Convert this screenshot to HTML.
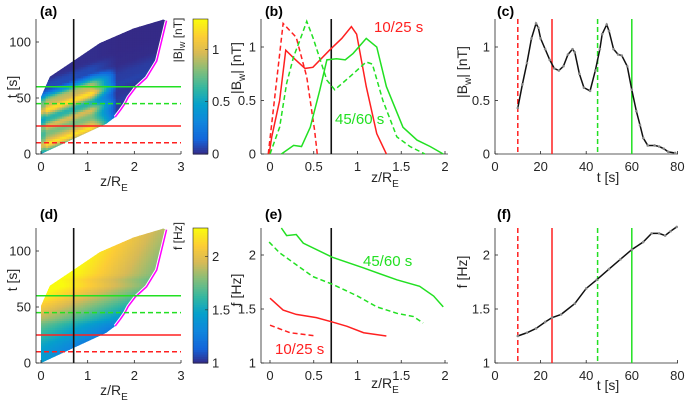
<!DOCTYPE html>
<html><head><meta charset="utf-8"><style>
html,body{margin:0;padding:0;background:#fff;}
svg{display:block;font-family:"Liberation Sans",sans-serif;}
</style></head><body>
<svg id="fig" width="685" height="405" viewBox="0 0 685 405"></svg>
<script>
// ---- data arrays ----
const cT=[10,12,14,16,18,19,20,22,24,26,28,30,32,34,35,37,39,41.7,44,46,47,49,50,52,54,55.6,58,60,62,63.6,65,67,70,72,74,76,79];
const cB=[0.43,0.65,0.85,1.08,1.22,1.18,1.08,0.98,0.88,0.8,0.78,0.82,0.93,0.98,0.95,0.75,0.62,0.59,0.78,0.98,1.12,1.21,1.15,0.98,0.93,0.92,0.82,0.6,0.4,0.27,0.15,0.08,0.08,0.07,0.05,0.02,0.01];
const fT=[10,14,18,22,25,29,35,40,44.6,50,55,60,65,68.7,72,74.6,77,79.7];
const fF=[1.25,1.28,1.32,1.38,1.42,1.45,1.55,1.69,1.77,1.87,1.96,2.05,2.12,2.2,2.2,2.18,2.22,2.26];
const bZ10=[-0.02,0.05,0.15,0.3,0.42,0.51,0.54];
const bV10=[0,0.5,1.22,1.09,0.72,0.22,0];
const bZ25=[-0.01,0.02,0.11,0.18,0.28,0.4,0.49,0.68,0.82,0.93,0.99,1.1,1.22,1.33];
const bV25=[0,0.16,0.5,0.97,0.89,0.8,0.81,0.97,1.08,1.19,1.12,0.63,0.19,0];
const bZ45=[0,0.11,0.19,0.27,0.34,0.42,0.49,0.65,0.74,0.91,1.1,1.17,1.29,1.45,1.6,1.77];
const bV45=[0,0.25,0.66,0.91,1.06,1.24,1.09,0.69,0.6,0.72,0.86,0.84,0.5,0.16,0.07,0];
const bZ60=[0.13,0.27,0.36,0.46,0.57,0.65,0.76,0.86,0.95,1.1,1.22,1.33,1.52,1.68,1.83,1.98];
const bV60=[0,0.08,0.07,0.25,0.6,0.88,0.89,0.88,0.94,1.08,1.0,0.63,0.25,0.13,0.07,0];
const eZ10=[0,0.23,0.53];
const eF10=[1.35,1.28,1.25];
const eZ25=[0,0.15,0.3,0.53,0.71,0.88,1.07,1.33];
const eF25=[1.6,1.49,1.45,1.42,1.38,1.34,1.28,1.25];
const eZ45=[-0.01,0.11,0.3,0.49,0.71,1.0,1.22,1.45,1.64,1.75];
const eF45=[2.12,2.02,1.91,1.8,1.73,1.62,1.52,1.46,1.43,1.37];
const eZ60=[0.13,0.19,0.3,0.38,0.71,1.07,1.45,1.71,1.87,1.98];
const eF60=[2.25,2.18,2.19,2.11,1.98,1.88,1.77,1.71,1.62,1.52];
const magZ=[1.59,1.7,1.8,1.87,2.02,2.26,2.48,2.62,2.69];
const magT=[33,39,45,50.6,58.9,68,83,107,119];
const topZ=[2.62,1.98,1.26,0.73,0.19,0];
const topT=[120,112,99,84,69,51];
const lowZ=[0,1.4];
const lowT=[0,27];
const markT=[10,25,45,60];
const zCut=0.7;

const NS="http://www.w3.org/2000/svg";
const svg=document.getElementById('fig');
function el(tag,attrs,parent){const e=document.createElementNS(NS,tag);for(const k in attrs)e.setAttribute(k,attrs[k]);(parent||svg).appendChild(e);return e;}
function interp(xs,ys,x){if(x<=xs[0])return ys[0];if(x>=xs[xs.length-1])return ys[ys.length-1];for(let i=1;i<xs.length;i++){if(x<=xs[i]){const f=(x-xs[i-1])/(xs[i]-xs[i-1]);return ys[i-1]+f*(ys[i]-ys[i-1]);}}}
const PS=[[0,[53,42,135]],[0.11,[20,101,218]],[0.24,[15,134,221]],[0.37,[6,160,203]],[0.49,[51,183,161]],[0.62,[130,190,123]],[0.75,[215,186,86]],[0.87,[252,204,54]],[1,[249,251,14]]];
function parula(v){v=Math.max(0,Math.min(1,v));for(let i=1;i<PS.length;i++){if(v<=PS[i][0]){const f=(v-PS[i-1][0])/(PS[i][0]-PS[i-1][0]);const a=PS[i-1][1],b=PS[i][1];return 'rgb('+a.map((c,j)=>Math.round(c+f*(b[j]-c))).join(',')+')';}}return 'rgb(249,251,14)';}

// scales
const xZa=z=>41+46.67*z, yTa=t=>154-1.12*t, yTd=t=>363-1.12*t;
const xZb=z=>270+87.5*z, yBb=v=>154-107*v, yFe=f=>363-108*(f-1);
const xTc=t=>495+2.28*t;
const AX='#262626';

function txt(x,y,s,o){const t=el('text',Object.assign({x:x,y:y,'font-size':13,fill:AX},o||{}));t.textContent=s;return t;}
function axes(name,x0,x1,y0,y1,xt,xs,xl,yt,ys,yl){
  const g=el('g',{});
  
  
  el('line',{x1:x0,y1:y1,x2:x1,y2:y1,stroke:AX,'stroke-width':0.8},g);
  el('line',{x1:x0,y1:y0,x2:x0,y2:y1,stroke:AX,'stroke-width':0.8},g);
  xt.forEach((v,i)=>{const x=xs(v);el('line',{x1:x,y1:y1,x2:x,y2:y1-3,stroke:AX,'stroke-width':0.8},g);const t=txt(x,y1+17,xl[i],{'text-anchor':'middle'});});
  yt.forEach((v,i)=>{const y=ys(v);el('line',{x1:x0,y1:y,x2:x0+3,y2:y,stroke:AX,'stroke-width':0.8},g);const t=txt(x0-5,y+4.5,yl[i],{'text-anchor':'end'});});
}
function poly(xs,ys,sx,sy,stroke,dash,name,w){
  const p=el('polyline',{points:xs.map((x,i)=>sx(x)+','+sy(ys[i])).join(' '),fill:'none',stroke:stroke,'stroke-width':w||1.5,'stroke-dasharray':dash?'5,3':'none'});
  
  
  return p;
}
const defs=el('defs',{});
function heat(name,ys,valFn,vmin,vmax){
  const cp=el('clipPath',{id:'clip-'+name},defs);
  const pts=[];
  lowZ.forEach((z,i)=>pts.push([z,lowT[i]]));
  magZ.forEach((z,i)=>pts.push([z,magT[i]]));
  topZ.forEach((z,i)=>pts.push([z,topT[i]]));
  el('polygon',{points:pts.map(p=>xZa(p[0])+','+ys(p[1])).join(' ')},cp);
  const g=el('g',{'clip-path':'url(#clip-'+name+')'});
  
  
  const dz=0.05,dt=2;
  for(let z=0;z<2.75;z+=dz)for(let t=0;t<121;t+=dt){
    const v=valFn(z+dz/2,t+dt/2);
    el('rect',{x:xZa(z),y:ys(t+dt),width:46.67*dz+0.6,height:1.12*dt+0.6,fill:parula((v-vmin)/(vmax-vmin))},g);
  }
  poly(magZ,magT,xZa,ys,'#fff',false,name+'-boundary-outline',3.5);
  poly(magZ,magT,xZa,ys,'#ff00ff',false,name+'-magenta-boundary',1.5);
}
function hlines(name,ys){
  const cols=['#ff2020','#ff2020','#22e022','#22e022'],dash=[true,false,true,false];
  markT.forEach((t,i)=>{const l=el('line',{x1:36,x2:181,y1:ys(t),y2:ys(t),stroke:cols[i],'stroke-width':1.5,'stroke-dasharray':dash[i]?'5,3':'none'});});
}
function vlinesT(name,y0,y1){
  const cols=['#ff2020','#ff2020','#22e022','#22e022'],dash=[true,false,true,false];
  markT.forEach((t,i)=>{const l=el('line',{x1:xTc(t),x2:xTc(t),y1:y0,y2:y1,stroke:cols[i],'stroke-width':1.5,'stroke-dasharray':dash[i]?'5,3':'none'});});
}
function colorbar(name,y0,y1,vmin,vmax,ticks,label,ly){
  const g=el('g',{});
  
  
  const n=60;for(let i=0;i<n;i++){const v=vmin+(vmax-vmin)*(i+0.5)/n;el('rect',{x:193,y:y1-(y1-y0)*(i+1)/n,width:15,height:(y1-y0)/n+0.6,fill:parula((v-vmin)/(vmax-vmin))},g);}
  el('rect',{x:193,y:y0,width:15,height:y1-y0,fill:'none',stroke:AX,'stroke-width':0.6},g);
  ticks.forEach(v=>{const y=y1-(y1-y0)*(v-vmin)/(vmax-vmin);el('line',{x1:205,x2:208,y1:y,y2:y,stroke:AX,'stroke-width':0.6},g);txt(212,y+4.5,String(v));});
  const t=el('text',{'font-size':12,fill:AX,'text-anchor':'middle',transform:'translate(182,'+ly+') rotate(-90)'},g);
  t.innerHTML=label;
  
  
}
function vcut(name,sx,y0,y1){const l=el('line',{x1:sx(zCut),x2:sx(zCut),y1:y0,y2:y1,stroke:'#111','stroke-width':1.6});}
function plabel(s,x,y){const t=txt(x,y,s,{'font-size':14,'font-weight':'bold',fill:'#000'});}
function zlabel(name,cx,y){const t=el('text',{x:cx,y:y,'font-size':14,fill:AX,'text-anchor':'middle'});t.innerHTML='z/R<tspan font-size="10" dy="5">E</tspan>';}
function ylab(name,x,y,html){const t=el('text',{'font-size':14,fill:AX,'text-anchor':'middle',transform:'translate('+x+','+y+') rotate(-90)'});t.innerHTML=html;}
const bwl='|B<tspan font-size="10" dy="4">w</tspan><tspan dy="-4">| [nT]</tspan>';

// ---- (a) ----
heat('panel-a',yTa,(z,t)=>{const env=z<1.1?1:Math.max(0.05,1-(z-1.1)/0.55);return interp(cT,cB,t-15*(z-zCut))*env*(z<0.1?0.85:1);},0,1.29);
hlines('panel-a',yTa);vcut('panel-a',xZa,19,154);
axes('panel-a',36,181,19,154,[0,1,2,3],xZa,['0','1','2','3'],[0,50,100],yTa,['0','50','100']);
colorbar('panel-a',19,154,0,1.29,[0,0.5,1],'|B|<tspan font-size="9" dy="3">w</tspan><tspan dy="-3"> [nT]</tspan>',40);
plabel('(a)',40,16);zlabel('panel-a',114,186);ylab('panel-a',17,87,'t [s]');

// ---- (d) ----
heat('panel-d',yTd,(z,t)=>{const tt=t>79.7?2.26+(t-79.7)*0.004:interp(fT,fF,t);return tt+0.2-0.28*z;},1,2.27);
hlines('panel-d',yTd);vcut('panel-d',xZa,228,363);
axes('panel-d',36,181,228,363,[0,1,2,3],xZa,['0','1','2','3'],[0,50,100],yTd,['0','50','100']);
colorbar('panel-d',228,363,1,2.27,[1,1.5,2],'f [Hz]',236);
plabel('(d)',40,219);zlabel('panel-d',114,395);ylab('panel-d',17,280,'t [s]');

// ---- (b) ----
axes('panel-b',261,448,19,154,[0,0.5,1,1.5,2],xZb,['0','0.5','1','1.5','2'],[0,0.5,1],yBb,['0','0.5','1']);
vcut('panel-b',xZb,19,154);
poly(bZ10,bV10,xZb,yBb,'#ff2020',true,'panel-b-10s-line');
poly(bZ25,bV25,xZb,yBb,'#ff2020',false,'panel-b-25s-line');
poly(bZ45,bV45,xZb,yBb,'#22e022',true,'panel-b-45s-line');
poly(bZ60,bV60,xZb,yBb,'#22e022',false,'panel-b-60s-line');
let a1=txt(374,32,'10/25 s',{'font-size':15,fill:'#ff2020'});
let a2=txt(335,124,'45/60 s',{'font-size':15,fill:'#22e022'});
plabel('(b)',265,16);zlabel('panel-b',385,182);ylab('panel-b',241,68,bwl);

// ---- (e) ----
axes('panel-e',261,448,228,363,[0,0.5,1,1.5,2],xZb,['0','0.5','1','1.5','2'],[1,1.5,2],yFe,['1','1.5','2']);
vcut('panel-e',xZb,228,363);
poly(eZ10,eF10,xZb,yFe,'#ff2020',true,'panel-e-10s-line');
poly(eZ25,eF25,xZb,yFe,'#ff2020',false,'panel-e-25s-line');
poly(eZ45,eF45,xZb,yFe,'#22e022',true,'panel-e-45s-line');
poly(eZ60,eF60,xZb,yFe,'#22e022',false,'panel-e-60s-line');
a1=txt(363,266,'45/60 s',{'font-size':15,fill:'#22e022'});
a2=txt(275,354,'10/25 s',{'font-size':15,fill:'#ff2020'});
plabel('(e)',265,219);zlabel('panel-e',385,388);ylab('panel-e',241,290,'f [Hz]');

// ---- (c) ----
axes('panel-c',495,678,19,154,[0,20,40,60,80],xTc,['0','20','40','60','80'],[0,0.5,1],yBb,['0','0.5','1']);
vlinesT('panel-c',19,154);
poly(cT,cB,xTc,yBb,'#111',false,'panel-c-amplitude-line');
cT.forEach((t,i)=>{const c=el('circle',{cx:xTc(t),cy:yBb(cB[i]),r:1.3,fill:'#888'});});
plabel('(c)',497,16);
let tl=txt(608,182,'t [s]',{'font-size':14,'text-anchor':'middle'});
ylab('panel-c',467,72,bwl);

// ---- (f) ----
axes('panel-f',495,678,228,363,[0,20,40,60,80],xTc,['0','20','40','60','80'],[1,1.5,2],yFe,['1','1.5','2']);
vlinesT('panel-f',228,363);
poly(fT,fF,xTc,yFe,'#111',false,'panel-f-frequency-line');
fT.forEach((t,i)=>{const c=el('circle',{cx:xTc(t),cy:yFe(fF[i]),r:1.3,fill:'#888'});});
plabel('(f)',497,219);
tl=txt(608,390,'t [s]',{'font-size':14,'text-anchor':'middle'});
ylab('panel-f',467,272,'f [Hz]');
</script>
</body></html>
